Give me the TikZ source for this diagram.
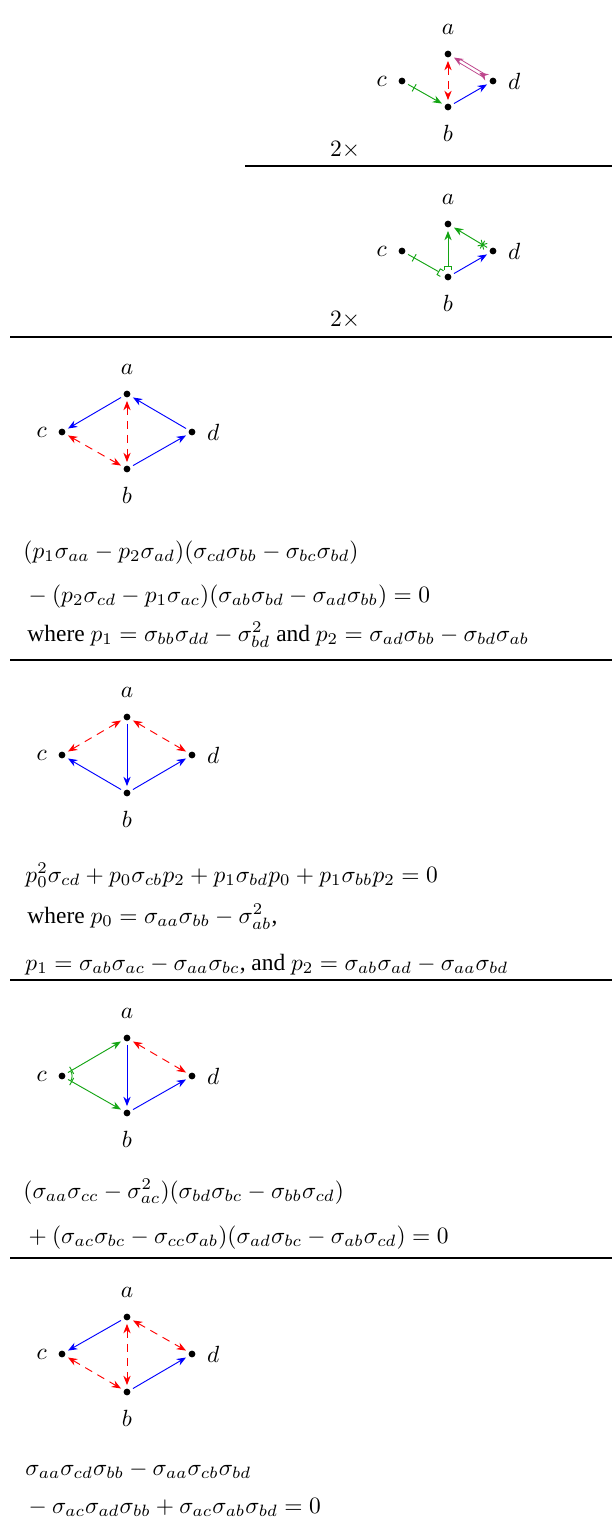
\documentclass[tikz,border=0pt]{standalone}
\usepackage{fontspec}
\setmainfont{Liberation Serif}
\usetikzlibrary{positioning,arrows.meta,decorations.markings}
\definecolor{dirblue}{RGB}{0,0,255}
\definecolor{bidired}{RGB}{255,0,0}
\definecolor{instgreen}{RGB}{20,165,20}
\definecolor{pairpink}{RGB}{190,70,140}

\begin{document}
\begin{tikzpicture}[
    x=0.4268pt, y=-0.4268pt,
    vertex/.style={
        circle,
        fill=black,
        inner sep=0pt,
        minimum size=2.9pt,
        outer sep=1.5pt
    },
    dir/.style={-{Stealth[length=4pt,width=3.1pt]}, dirblue},
    bidir/.style={{Stealth[length=4pt,width=3.1pt]}-{Stealth[length=4pt,width=3.1pt]}, bidired,
        dash pattern=on 3.4pt off 2.6pt},
    inst/.style={-{Stealth[length=4pt,width=3.1pt]}, instgreen},
    pairarr/.style={{Stealth[length=3.9pt,width=3.2pt,reversed]}-{Stealth[length=3.9pt,width=3.2pt]},
        draw=pairpink, double=white, double distance=1pt},
    tickmark/.style={postaction={decorate, decoration={markings,
        mark=at position #1 with {\draw[solid,-] (0,-1.75pt) -- (0,1.75pt);}}}},
    starmark/.style={postaction={decorate, decoration={markings,
        mark=at position #1 with {\draw[solid,-] (0,-1.9pt) -- (0,1.9pt)
            (-1.5pt,-1.5pt) -- (1.5pt,1.5pt) (-1.5pt,1.5pt) -- (1.5pt,-1.5pt);}}}},
    eq/.style={anchor=base west, inner sep=0pt},
    rule/.style={line width=0.45pt}
]
\useasboundingbox (0,0) rectangle (612,1521);

% === Graphe 1 (2x) ===
\node[vertex, label={[yshift=1.7pt]above:$a$}] (a1) at (448,54) {};
\node[vertex, label={left:$c$}] (c1) at (402,81) {};
\node[vertex, label={right:$d$}] (d1) at (493,81) {};
\node[vertex, label={[yshift=-1.3pt]below:$b$}] (b1) at (448,107) {};
\node (times1) at (345,150) {$2\times$};

\draw[inst, tickmark=0.18] (c1) -- (b1);
\draw[bidir] (a1) -- (b1);
\draw[dir] (b1) -- (d1);
\draw[pairarr] (d1) -- (a1);

\draw[rule] (245,166) -- (612,166);

% === Graphe 2 (2x) ===
\node[vertex, label={[yshift=1.7pt]above:$a$}] (a2) at (448,224) {};
\node[vertex, label={left:$c$}] (c2) at (402,251) {};
\node[vertex, label={right:$d$}] (d2) at (493,251) {};
\node[vertex, label={[yshift=-1.3pt]below:$b$}] (b2) at (448,277) {};
\node (times2) at (345,320) {$2\times$};

\draw[instgreen, tickmark=0.18, -{Bracket[width=3.2pt,length=1.6pt,reversed]}] (c2) -- (b2);
\draw[instgreen, {Bracket[width=3.2pt,length=1.6pt,reversed]}-{Stealth[length=4pt,width=3.1pt]}] (b2) -- (a2);
\draw[inst, starmark=0.14] (d2) -- (a2);
\draw[dir] (b2) -- (d2);

\draw[rule] (10,337) -- (612,337);

% === Graphe 3 ===
\node[vertex, label={[yshift=1.7pt]above:$a$}] (a3) at (127,394) {};
\node[vertex, label={left:$c$}] (c3) at (62,432) {};
\node[vertex, label={right:$d$}] (d3) at (192,432) {};
\node[vertex, label={[yshift=-1.3pt]below:$b$}] (b3) at (127,469) {};

\draw[dir] (a3) -- (c3);
\draw[dir] (d3) -- (a3);
\draw[bidir] (c3) -- (b3);
\draw[bidir] (a3) -- (b3);
\draw[dir] (b3) -- (d3);

\node[eq] (eq3a) at (23,558) {$(p_1\sigma_{aa}-p_2\sigma_{ad})(\sigma_{cd}\sigma_{bb}-\sigma_{bc}\sigma_{bd})$};
\node[eq] (eq3b) at (23,602) {${}-(p_2\sigma_{cd}-p_1\sigma_{ac})(\sigma_{ab}\sigma_{bd}-\sigma_{ad}\sigma_{bb})=0$};
\node[eq] (eq3c) at (27,641) {where $p_1=\sigma_{bb}\sigma_{dd}-\sigma_{bd}^2$ and $p_2=\sigma_{ad}\sigma_{bb}-\sigma_{bd}\sigma_{ab}$};

\draw[rule] (10,660) -- (612,660);

% === Graphe 4 ===
\node[vertex, label={[yshift=1.7pt]above:$a$}] (a4) at (127,717) {};
\node[vertex, label={left:$c$}] (c4) at (62,755) {};
\node[vertex, label={right:$d$}] (d4) at (192,755) {};
\node[vertex, label={[yshift=-1.3pt]below:$b$}] (b4) at (127,793) {};

\draw[bidir] (a4) -- (c4);
\draw[bidir] (a4) -- (d4);
\draw[dir] (a4) -- (b4);
\draw[dir] (b4) -- (c4);
\draw[dir] (b4) -- (d4);

\node[eq] (eq4a) at (25,882) {$p_0^2\sigma_{cd}+p_0\sigma_{cb}p_2+p_1\sigma_{bd}p_0+p_1\sigma_{bb}p_2=0$};
\node[eq] (eq4b) at (27,923) {where $p_0=\sigma_{aa}\sigma_{bb}-\sigma_{ab}^2$,};
\node[eq] (eq4c) at (25,970) {$p_1=\sigma_{ab}\sigma_{ac}-\sigma_{aa}\sigma_{bc}$, and $p_2=\sigma_{ab}\sigma_{ad}-\sigma_{aa}\sigma_{bd}$};

\draw[rule] (10,980) -- (612,980);

% === Graphe 5 ===
\node[vertex, label={[yshift=1.7pt]above:$a$}] (a5) at (127,1038) {};
\node[vertex, label={left:$c$}] (c5) at (62,1076) {};
\node[vertex, label={right:$d$}] (d5) at (192,1076) {};
\node[vertex, label={[yshift=-1.3pt]below:$b$}] (b5) at (127,1113) {};

\draw[inst, tickmark=0.07] (c5) -- (a5);
\draw[inst, tickmark=0.07] (c5) -- (b5);
\draw[instgreen] ([shift={(30:4.3pt)}]c5.center) arc[start angle=30, end angle=-30, radius=4.3pt];
\draw[dir] (a5) -- (b5);
\draw[bidir] (a5) -- (d5);
\draw[dir] (b5) -- (d5);

\node[eq] (eq5a) at (23,1198) {$(\sigma_{aa}\sigma_{cc}-\sigma_{ac}^2)(\sigma_{bd}\sigma_{bc}-\sigma_{bb}\sigma_{cd})$};
\node[eq] (eq5b) at (23,1243) {${}+(\sigma_{ac}\sigma_{bc}-\sigma_{cc}\sigma_{ab})(\sigma_{ad}\sigma_{bc}-\sigma_{ab}\sigma_{cd})=0$};

\draw[rule] (10,1258) -- (612,1258);

% === Graphe 6 ===
\node[vertex, label={[yshift=1.7pt]above:$a$}] (a6) at (127,1317) {};
\node[vertex, label={left:$c$}] (c6) at (62,1354) {};
\node[vertex, label={right:$d$}] (d6) at (192,1354) {};
\node[vertex, label={[yshift=-1.3pt]below:$b$}] (b6) at (127,1392) {};

\draw[dir] (a6) -- (c6);
\draw[bidir] (c6) -- (b6);
\draw[bidir] (a6) -- (b6);
\draw[bidir] (a6) -- (d6);
\draw[dir] (b6) -- (d6);

\node[eq] (eq6a) at (25,1475) {$\sigma_{aa}\sigma_{cd}\sigma_{bb}-\sigma_{aa}\sigma_{cb}\sigma_{bd}$};
\node[eq] (eq6b) at (23,1513) {${}-\sigma_{ac}\sigma_{ad}\sigma_{bb}+\sigma_{ac}\sigma_{ab}\sigma_{bd}=0$};

\end{tikzpicture}
\end{document}
